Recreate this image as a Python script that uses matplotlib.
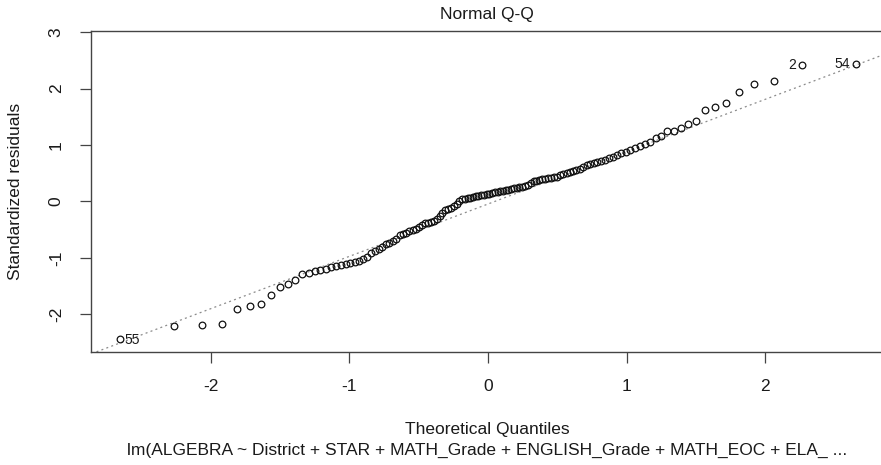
import matplotlib
matplotlib.use("Agg")
import matplotlib.pyplot as plt
from statistics import NormalDist
import numpy as np

plt.rcParams["font.family"] = ["Liberation Sans", "DejaVu Sans"]
plt.rcParams["axes.unicode_minus"] = False

# Sorted standardized residuals of the fitted model
std_resid = [
    -2.44, -2.21, -2.18, -2.17, -1.90, -1.86, -1.81, -1.66, -1.52, -1.46,
    -1.40, -1.28, -1.26, -1.24, -1.21, -1.19, -1.16, -1.14, -1.12, -1.10,
    -1.09, -1.07, -1.05, -1.02, -0.99, -0.92, -0.87, -0.85, -0.80, -0.76,
    -0.74, -0.70, -0.66, -0.60, -0.58, -0.56, -0.53, -0.51, -0.49, -0.46,
    -0.41, -0.39, -0.38, -0.37, -0.35, -0.31, -0.26, -0.20, -0.16, -0.14,
    -0.11, -0.08, -0.04, 0.01, 0.04, 0.05, 0.06, 0.07, 0.08, 0.09,
    0.10, 0.11, 0.12, 0.13, 0.14, 0.15, 0.16, 0.17, 0.18, 0.19,
    0.20, 0.21, 0.22, 0.23, 0.24, 0.25, 0.26, 0.28, 0.30, 0.33,
    0.36, 0.37, 0.38, 0.39, 0.40, 0.41, 0.42, 0.43, 0.44, 0.46,
    0.48, 0.50, 0.52, 0.54, 0.555, 0.57, 0.61, 0.65, 0.67, 0.68,
    0.70, 0.72, 0.74, 0.77, 0.79, 0.82, 0.85, 0.88, 0.91, 0.95,
    0.98, 1.01, 1.05, 1.12, 1.16, 1.24, 1.25, 1.31, 1.37, 1.42,
    1.62, 1.67, 1.75, 1.94, 2.08, 2.13, 2.41, 2.44,
]
# Observation ids of the flagged extreme residuals (rank in sorted order -> id)
flagged_rank = [0, len(std_resid) - 2, len(std_resid) - 1]
flagged_id = ["55", "2", "54"]

x_ticks = [-2, -1, 0, 1, 2]
y_ticks = [-2, -1, 0, 1, 2, 3]
title = "Normal Q-Q"
x_label = "Theoretical Quantiles"
y_label = "Standardized residuals"
caption = "lm(ALGEBRA ~ District + STAR + MATH_Grade + ENGLISH_Grade + MATH_EOC + ELA_ ..."

# theoretical quantiles (ppoints with a = 0.5)
n = len(std_resid)
nd = NormalDist()
theo = np.array([nd.inv_cdf((i + 0.5) / n) for i in range(n)])
resid = np.array(std_resid)

# reference line through the quartiles
q1, q3 = np.quantile(resid, [0.25, 0.75])
z1, z3 = nd.inv_cdf(0.25), nd.inv_cdf(0.75)
slope = (q3 - q1) / (z3 - z1)
intercept = q1 - slope * z1

W, H = 881, 465
fig = plt.figure(figsize=(W / 100, H / 100), dpi=100)
ax = fig.add_axes([91 / W, (H - 352) / H, (885 - 91) / W, (352 - 31) / H])

ax.set_xlim(-2.866, 2.866)
ax.set_ylim(-2.667, 3.02)

xx = np.array([-3.5, 3.5])
ax.plot(xx, intercept + slope * xx, color="#8c8c8c", lw=0.9,
        linestyle=(0, (1.6, 2.6)), zorder=1)
ax.plot(theo, resid, linestyle="none", marker="o", markersize=4.8,
        markerfacecolor="none", markeredgecolor="#111111",
        markeredgewidth=0.9, zorder=2)

for r, lab in zip(flagged_rank, flagged_id):
    if theo[r] < 0:
        ax.annotate(lab, (theo[r], resid[r]), xytext=(3.5, -0.5),
                    textcoords="offset points", ha="left", va="center",
                    fontsize=10, color="#1a1a1a")
    else:
        ax.annotate(lab, (theo[r], resid[r]), xytext=(-4.5, 0),
                    textcoords="offset points", ha="right", va="center",
                    fontsize=10, color="#1a1a1a")

ax.set_xticks(x_ticks)
ax.set_yticks(y_ticks)
ax.set_xticklabels([str(t) for t in x_ticks])
ax.set_yticklabels([str(t) for t in y_ticks], rotation=90, va="center")
ax.tick_params(axis="both", direction="out", length=7.6, width=0.9,
               color="#444444", labelsize=12.5, labelcolor="#1a1a1a")
ax.tick_params(axis="x", pad=12)
ax.tick_params(axis="y", pad=12)

for side in ["left", "top", "bottom"]:
    ax.spines[side].set_color("#444444")
    ax.spines[side].set_linewidth(1.0)
ax.spines["right"].set_visible(False)

fig.text(487 / W, 1 - 15 / H, title, ha="center", va="center",
         fontsize=12.5, color="#1a1a1a")
fig.text(487 / W, 1 - 429 / H, x_label, ha="center", va="center",
         fontsize=12.5, color="#1a1a1a")
fig.text(487 / W, 1 - 450 / H, caption, ha="center", va="center",
         fontsize=12.5, color="#1a1a1a")
fig.text(16 / W, 1 - 191 / H, y_label, ha="center", va="center",
         rotation=90, fontsize=12.5, color="#1a1a1a")

fig.savefig("out.png", dpi=100)
